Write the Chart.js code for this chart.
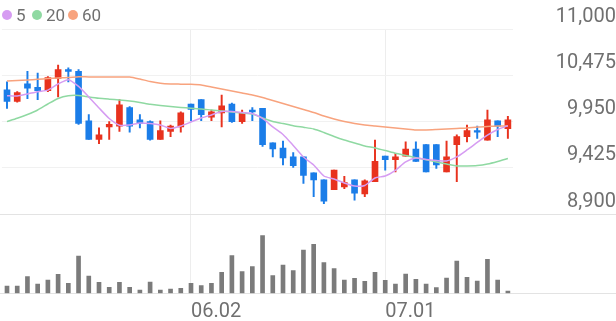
<!DOCTYPE html>
<html>
<head>
<meta charset="utf-8">
<script src="https://cdn.jsdelivr.net/npm/chart.js@4.4.1/dist/chart.umd.min.js"></script>
<style>
    html, body { margin: 0; padding: 0; background: #fff; }
    #wrap { position: relative; width: 616px; height: 321px; }
    #legend { position: absolute; left: 0; top: 0; font: 17px Roboto, sans-serif; color: #707070; }
    .item { position: absolute; top: 5px; height: 20px; line-height: 20px; display: flex; align-items: center; white-space: nowrap; }
    .dot { width: 10px; height: 10px; border-radius: 50%; margin-right: 4px; }
</style>
</head>
<body>
<div id="wrap">
    <canvas id="chart" width="616" height="321"></canvas>
    <div id="legend"></div>
</div>
<script>
// Trading days (MM.DD)
const dates = [
    '05.07', '05.08', '05.09', '05.12', '05.13', '05.14', '05.15', '05.16', '05.19', '05.20',
    '05.21', '05.22', '05.23', '05.26', '05.27', '05.28', '05.29', '05.30',
    '06.02', '06.04', '06.05', '06.09', '06.10', '06.11', '06.12', '06.13', '06.16', '06.17',
    '06.18', '06.19', '06.20', '06.23', '06.24', '06.25', '06.26', '06.27', '06.30',
    '07.01', '07.02', '07.03', '07.04', '07.07', '07.08', '07.09', '07.10', '07.11', '07.14',
    '07.15', '07.16', '07.17'
];

// Daily prices
const open = [10310, 10180, 10380, 10340, 10300, 10440, 10540, 10520, 9960, 9750, 9890, 9900, 10110, 9970, 9950, 9750, 9840, 9890, 10150, 10200, 10000, 10050, 10150, 9950, 10080, 10100, 9710, 9650, 9550, 9550, 9370, 9290, 9180, 9210, 9290, 9130, 9270, 9560, 9520, 9560, 9640, 9690, 9690, 9380, 9690, 9780, 9850, 9740, 9960, 9870];
const close = [10180, 10280, 10330, 10300, 10450, 10540, 10520, 9930, 9750, 9800, 9920, 10140, 9900, 9930, 9750, 9850, 9900, 10050, 10090, 10030, 10060, 10130, 9950, 10050, 10060, 9690, 9640, 9540, 9450, 9340, 9290, 9050, 9400, 9260, 9140, 9280, 9500, 9520, 9550, 9640, 9500, 9380, 9460, 9550, 9780, 9850, 9830, 9970, 9900, 9970];
const high = [10400, 10290, 10520, 10500, 10460, 10590, 10560, 10540, 10030, 9880, 9950, 10200, 10120, 10030, 9960, 9960, 9910, 10060, 10150, 10200, 10080, 10250, 10160, 10080, 10110, 10100, 9710, 9730, 9600, 9550, 9370, 9290, 9400, 9330, 9290, 9290, 9740, 9560, 9590, 9720, 9720, 9690, 9690, 9730, 9800, 9910, 9900, 10080, 9960, 10010];
const low = [10100, 10170, 10210, 10200, 10290, 10230, 10400, 9920, 9750, 9700, 9750, 9840, 9830, 9880, 9740, 9750, 9780, 9830, 9960, 9960, 9960, 9890, 9940, 9930, 9960, 9670, 9550, 9460, 9430, 9250, 9100, 9020, 9180, 9190, 9060, 9100, 9270, 9400, 9380, 9560, 9500, 9380, 9420, 9380, 9270, 9720, 9760, 9740, 9780, 9760];

// Moving averages as drawn
const ma5 = [10244, 10241, 10264, 10290, 10307, 10377, 10426, 10349, 10230, 10105, 9986, 9910, 9912, 9935, 9929, 9912, 9873, 9901, 9946, 9992, 10026, 10065, 10065, 10054, 10043, 9986, 9890, 9805, 9680, 9550, 9459, 9334, 9300, 9255, 9221, 9227, 9312, 9334, 9399, 9493, 9538, 9521, 9510, 9504, 9550, 9629, 9714, 9797, 9861, 9904];
const ma20 = [9950, 9988, 10031, 10082, 10150, 10213, 10244, 10247, 10230, 10215, 10205, 10196, 10184, 10167, 10147, 10133, 10122, 10111, 10102, 10094, 10082, 10071, 10060, 10048, 10037, 9992, 9952, 9929, 9904, 9886, 9867, 9827, 9782, 9742, 9708, 9674, 9652, 9623, 9592, 9567, 9542, 9518, 9493, 9470, 9448, 9448, 9453, 9470, 9499, 9533];
const ma60 = [10411, 10417, 10422, 10430, 10439, 10445, 10450, 10460, 10456, 10456, 10456, 10456, 10456, 10433, 10405, 10385, 10377, 10375, 10373, 10366, 10343, 10320, 10298, 10275, 10252, 10224, 10190, 10156, 10122, 10088, 10054, 10014, 9980, 9952, 9929, 9912, 9901, 9890, 9878, 9867, 9856, 9856, 9861, 9867, 9873, 9878, 9890, 9895, 9901, 9901];

// Volume (thousand shares)
const volume = [73, 73, 167, 93, 133, 190, 100, 373, 173, 110, 60, 110, 60, 33, 113, 33, 43, 50, 100, 77, 100, 210, 377, 217, 267, 577, 177, 283, 227, 433, 490, 307, 247, 133, 150, 120, 210, 130, 93, 193, 140, 93, 57, 153, 323, 160, 123, 340, 133, 23];

// Axis ticks
const priceTicks = [8900, 9425, 9950, 10475, 11000];
const volumeMax = 790;

// Colours
const UP = '#e8321e';
const DOWN = '#1b7de8';
const VOL = '#7b7b7b';
const AXIS_TEXT = '#707070';
const maLines = [
    { label: '5', data: ma5, color: '#d69cf2' },
    { label: '20', data: ma20, color: '#8fd9a2' },
    { label: '60', data: ma60, color: '#f8a37e' }
];

const candleColors = open.map((o, i) => close[i] >= o ? UP : DOWN);

// First trading day of each month gets a label and a grid line
function isMonthStart(i) {
    return i > 0 && dates[i].slice(0, 2) !== dates[i - 1].slice(0, 2);
}

// Full-width panel borders under the price and volume areas
const panelLines = {
    id: 'panelLines',
    beforeDatasetsDraw(chart) {
        const { ctx, scales } = chart;
        const ys = [scales.y.getPixelForValue(priceTicks[0]), scales.v.getPixelForValue(0)];
        ctx.save();
        ctx.strokeStyle = '#e3e3e3';
        ctx.lineWidth = 1;
        ys.forEach(y => {
            const py = Math.round(y) + 0.5;
            ctx.beginPath();
            ctx.moveTo(0, py);
            ctx.lineTo(chart.width, py);
            ctx.stroke();
        });
        ctx.restore();
    }
};

// Build HTML legend
function buildLegend() {
    const legend = document.getElementById('legend');
    const lefts = [2, 32, 68];
    maLines.forEach((m, i) => {
        const item = document.createElement('div');
        item.className = 'item';
        item.style.left = lefts[i] + 'px';
        const dot = document.createElement('span');
        dot.className = 'dot';
        dot.style.background = m.color;
        item.appendChild(dot);
        item.appendChild(document.createTextNode(m.label));
        legend.appendChild(item);
    });
}

const lineSets = maLines.map(m => ({
    type: 'line',
    label: m.label,
    data: m.data,
    yAxisID: 'y',
    borderColor: m.color,
    borderWidth: 1.5,
    pointRadius: 0,
    tension: 0.2,
    fill: false
}));

new Chart(document.getElementById('chart'), {
    type: 'bar',
    data: {
        labels: dates,
        datasets: [
            ...lineSets,
            {
                label: 'body',
                data: open.map((o, i) => [o, close[i]]),
                yAxisID: 'y',
                backgroundColor: candleColors,
                barThickness: 6,
                grouped: false
            },
            {
                label: 'wick',
                data: low.map((l, i) => [l, high[i]]),
                yAxisID: 'y',
                backgroundColor: candleColors,
                barThickness: 1.3,
                grouped: false
            },
            {
                label: 'volume',
                data: volume,
                yAxisID: 'v',
                backgroundColor: VOL,
                barThickness: 4,
                grouped: false
            }
        ]
    },
    options: {
        responsive: false,
        animation: false,
        layout: { padding: { top: 29, left: 0, right: 0, bottom: 0 } },
        plugins: {
            legend: { display: false },
            tooltip: { enabled: false }
        },
        scales: {
            x: {
                offset: true,
                border: { display: false },
                grid: {
                    offset: false,
                    drawTicks: false,
                    color: ctx => isMonthStart(ctx.index) ? '#ededed' : 'rgba(0,0,0,0)'
                },
                ticks: {
                    autoSkip: false,
                    maxRotation: 0,
                    align: 'start',
                    padding: 7,
                    color: AXIS_TEXT,
                    font: { family: 'Roboto', size: 20 },
                    callback: (v, i) => isMonthStart(i) ? dates[i] : ''
                },
                afterFit: s => { s.height = 27.7; }
            },
            y: {
                position: 'right',
                stack: 'panel',
                stackWeight: 185.3,
                min: priceTicks[0],
                max: priceTicks[priceTicks.length - 1],
                afterBuildTicks: s => { s.ticks = priceTicks.map(v => ({ value: v })); },
                border: { display: false },
                grid: { color: '#f1f1f1', drawTicks: true, tickLength: 37, tickColor: 'rgba(0,0,0,0)' },
                ticks: {
                    autoSkip: false,
                    crossAlign: 'far',
                    padding: 0,
                    labelOffset: -12.5,
                    color: AXIS_TEXT,
                    font: { family: 'Roboto', size: 20 },
                    callback: v => v.toLocaleString('en-US')
                },
                afterFit: s => { s.width = 103; }
            },
            v: {
                position: 'right',
                stack: 'panel',
                stackWeight: 79,
                min: 0,
                max: volumeMax,
                border: { display: false },
                grid: { display: false },
                ticks: { display: false },
                afterFit: s => { s.width = 103; }
            }
        }
    },
    plugins: [panelLines]
});

buildLegend();
</script>
</body>
</html>
